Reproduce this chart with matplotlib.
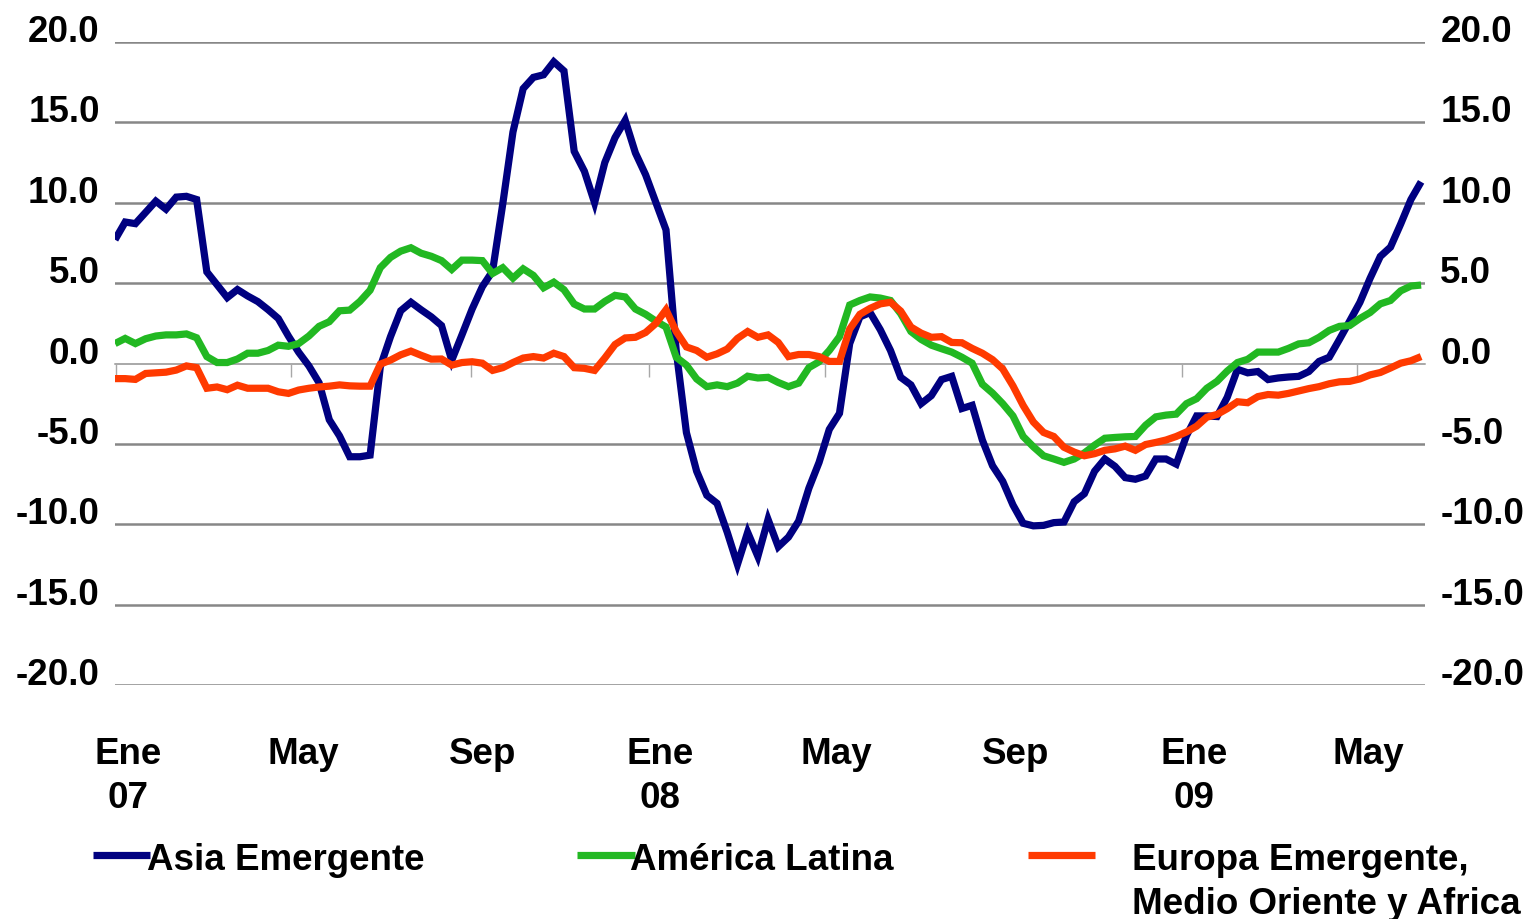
import matplotlib
matplotlib.use("Agg")
import matplotlib.pyplot as plt
from matplotlib.lines import Line2D
import pandas as pd

# ---------------- data (weekly) ----------------
dates = pd.date_range("2006-12-31", periods=129, freq="7D")

asia = [7.7, 8.8, 8.7, 9.4, 10.1, 9.6, 10.35, 10.4, 10.2, 5.7,
        4.9, 4.1, 4.6, 4.2, 3.85, 3.35, 2.8, 1.7, 0.7, -0.15,
        -1.2, -3.5, -4.5, -5.8, -5.8, -5.7, -0.2, 1.67, 3.28, 3.81,
        3.34, 2.9, 2.36, 0.2, 1.78, 3.39, 4.78, 5.74, 9.92, 14.4,
        17.1, 17.8, 17.96, 18.77, 18.2, 13.2, 11.96, 10.0, 12.5, 14.05,
        15.13, 13.1, 11.74, 10.03, 8.31, 0.8, -4.3, -6.7, -8.2, -8.7,
        -10.5, -12.5, -10.5, -12.0, -9.7, -11.4, -10.8, -9.8, -7.76, -6.15,
        -4.1, -3.1, 1.24, 2.9, 3.17, 2.1, 0.81, -0.86, -1.33, -2.5,
        -2.0, -1.0, -0.8, -2.8, -2.6, -4.76, -6.36, -7.33, -8.8, -9.94,
        -10.1, -10.07, -9.9, -9.86, -8.6, -8.1, -6.7, -5.94, -6.4, -7.1,
        -7.2, -7.0, -5.94, -5.94, -6.26, -4.5, -3.26, -3.26, -3.3, -2.1,
        -0.36, -0.58, -0.5, -1.0, -0.9, -0.84, -0.8, -0.5, 0.13, 0.39,
        1.5, 2.64, 3.8, 5.3, 6.66, 7.24, 8.68, 10.2, 11.3]

latam = [1.24, 1.56, 1.24, 1.54, 1.71, 1.78, 1.78, 1.84, 1.6, 0.43,
         0.06, 0.06, 0.28, 0.64, 0.64, 0.81, 1.14, 1.07, 1.24, 1.71,
         2.31, 2.6, 3.28, 3.32, 3.86, 4.56, 5.96, 6.6, 6.99, 7.2,
         6.86, 6.67, 6.4, 5.85, 6.43, 6.43, 6.4, 5.6, 5.96, 5.31,
         5.89, 5.48, 4.71, 5.06, 4.59, 3.7, 3.39, 3.39, 3.86, 4.24,
         4.14, 3.39, 3.06, 2.64, 2.27, 0.39, -0.1, -0.96, -1.44, -1.33,
         -1.44, -1.22, -0.79, -0.9, -0.86, -1.18, -1.44, -1.22, -0.26, 0.11,
         0.81, 1.67, 3.64, 3.92, 4.14, 4.07, 3.92, 3.1, 1.99, 1.5,
         1.14, 0.92, 0.71, 0.39, 0.02, -1.29, -1.84, -2.5, -3.26, -4.54,
         -5.18, -5.74, -5.94, -6.15, -5.94, -5.56, -5.08, -4.65, -4.6, -4.56,
         -4.54, -3.84, -3.32, -3.21, -3.15, -2.5, -2.19, -1.54, -1.11, -0.47,
         0.06, 0.26, 0.71, 0.71, 0.71, 0.94, 1.22, 1.29, 1.63, 2.06,
         2.31, 2.36, 2.8, 3.17, 3.71, 3.92, 4.52, 4.82, 4.88]

europa = [-0.94, -0.94, -0.99, -0.62, -0.58, -0.54, -0.41, -0.15, -0.26, -1.54,
          -1.46, -1.63, -1.35, -1.54, -1.54, -1.54, -1.76, -1.86, -1.65, -1.54,
          -1.46, -1.41, -1.33, -1.39, -1.41, -1.41, -0.04, 0.21, 0.54, 0.77,
          0.51, 0.27, 0.28, -0.1, 0.06, 0.11, 0.02, -0.43, -0.26, 0.06,
          0.34, 0.43, 0.34, 0.64, 0.43, -0.26, -0.3, -0.43, 0.34, 1.18,
          1.59, 1.63, 1.93, 2.49, 3.34, 1.99, 1.03, 0.81, 0.39, 0.6,
          0.9, 1.56, 1.99, 1.63, 1.78, 1.31, 0.43, 0.56, 0.56, 0.43,
          0.13, 0.13, 2.14, 3.06, 3.43, 3.71, 3.81, 3.26, 2.27, 1.89,
          1.63, 1.67, 1.31, 1.29, 0.94, 0.64, 0.24, -0.34, -1.39, -2.61,
          -3.64, -4.29, -4.54, -5.21, -5.51, -5.74, -5.61, -5.4, -5.31, -5.14,
          -5.4, -5.04, -4.91, -4.76, -4.54, -4.26, -3.9, -3.34, -3.17, -2.81,
          -2.38, -2.44, -2.06, -1.93, -1.97, -1.86, -1.71, -1.56, -1.44, -1.26,
          -1.14, -1.11, -0.96, -0.71, -0.56, -0.28, 0.02, 0.17, 0.43]

series_names = ["Asia Emergente", "América Latina",
                "Europa Emergente,\nMedio Oriente y Africa"]
series_colors = ["#000080", "#22B822", "#FF3A00"]

y_ticks = [20, 15, 10, 5, 0, -5, -10, -15, -20]
y_labels = [f"{v:.1f}" for v in y_ticks]

tick_dates = pd.to_datetime(["2007-01-01", "2007-05-01", "2007-09-01",
                             "2008-01-01", "2008-05-01", "2008-09-01",
                             "2009-01-01", "2009-05-01"])
tick_month = ["Ene", "May", "Sep", "Ene", "May", "Sep", "Ene", "May"]
tick_year = ["07", "", "", "08", "", "", "09", ""]

# ---------------- figure ----------------
plt.rcParams["font.family"] = ["Liberation Sans", "DejaVu Sans"]
plt.rcParams["font.weight"] = "bold"
FS = 26.5

W, H = 1529, 919
fig = plt.figure(figsize=(W / 100, H / 100), dpi=100)
ax = fig.add_axes([115 / W, 1 - 685 / H, (1425 - 115) / W, (685 - 42) / H])

for vals, col in zip([asia, latam, europa], series_colors):
    ax.plot(dates, vals, color=col, lw=5.2, solid_joinstyle="miter",
            solid_capstyle="butt", zorder=3)

ax.set_ylim(-20, 20)
ax.set_xlim(pd.Timestamp("2006-12-31"), pd.Timestamp("2009-06-16 16:00"))

# y axis
ax.set_yticks(y_ticks)
ax.set_yticklabels(y_labels)
ax.tick_params(axis="y", length=0, pad=11, labelsize=FS,
               labelleft=True, labelright=True)
for t in ax.yaxis.get_major_ticks():
    t.label1.set_va("baseline")
    t.label2.set_va("baseline")
    t.label1.set_fontweight("bold")
    t.label2.set_fontweight("bold")
ax.yaxis.grid(True, color="#878787", lw=1.8, zorder=0)
for gl, v in zip(ax.get_ygridlines(), y_ticks):
    if v == 0:
        gl.set_color("#a8a8a8")
        gl.set_linewidth(1.2)

# x axis at zero
for s in ["top", "right", "left"]:
    ax.spines[s].set_visible(False)
ax.spines["bottom"].set_position(("data", 0))
ax.spines["bottom"].set_color("#a8a8a8")
ax.spines["bottom"].set_linewidth(1.2)
ax.set_xticks(tick_dates)
ax.tick_params(axis="x", direction="out", length=9, width=1.0,
               color="#a8a8a8", labelbottom=False)

xtr = ax.get_xaxis_transform()
for d, m, yv in zip(tick_dates, tick_month, tick_year):
    dd = d + pd.Timedelta(days=8)
    ax.text(dd, -0.1229, m, transform=xtr, ha="center", va="baseline",
            fontsize=FS, fontweight="bold", clip_on=False)
    if yv:
        ax.text(dd, -0.1913, yv, transform=xtr, ha="center", va="baseline",
                fontsize=FS, fontweight="bold", clip_on=False)

# legend (manual)
leg_y = 1 - 855 / H
base_y = 1 - 870 / H
leg_items = [(93, 150, 147), (577, 635, 630), (1028, 1095, 1132)]
for (x0, x1, tx), name, col in zip(leg_items, series_names, series_colors):
    fig.add_artist(Line2D([x0 / W, x1 / W], [leg_y, leg_y], color=col,
                          lw=5.2, solid_capstyle="butt",
                          transform=fig.transFigure))
    lines = name.split("\n")
    for k, ln in enumerate(lines):
        fig.text(tx / W, base_y - k * 44 / H, ln, ha="left", va="baseline",
                 fontsize=FS, fontweight="bold", color="black")

fig.savefig("out.png", dpi=100)
